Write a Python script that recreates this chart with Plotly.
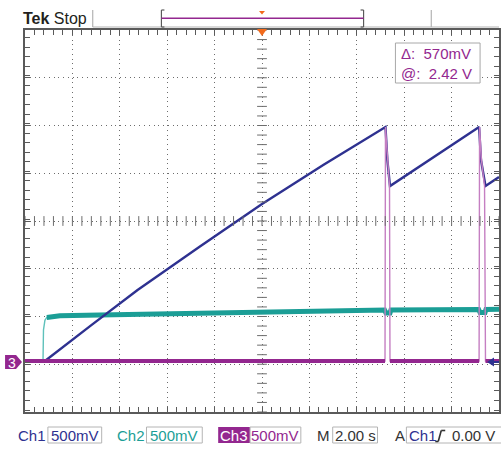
import numpy as np
import plotly.graph_objects as go

# ---- acquisition data (time in s, level in V) ----
ch1_t = [-10.0, -9.16, -7.20, -5.25, -2.65, 0.0, 2.60, 5.21, 5.29, 5.40, 9.16, 9.24, 9.43, 10.0]
ch1_v = [0.014, 0.014, 0.390, 0.757, 1.207, 1.658, 2.070, 2.464, 2.118, 1.846, 2.464, 2.118, 1.846, 1.940]

ch2_t = [-10.0, -9.24, -9.22, -9.16, -9.08, -8.87, -8.53, -6.85, -2.65, 1.56, 5.17, 5.23, 5.40,
         5.44, 9.14, 9.20, 9.41, 9.45, 10.0]
ch2_v = [0.014, 0.014, 0.34, 0.44, 0.47, 0.48, 0.487, 0.495, 0.516, 0.534, 0.548, 0.516, 0.516,
         0.548, 0.553, 0.521, 0.521, 0.553, 0.555]

ch3_t = [-10.0, 5.19, 5.21, 5.29, 5.38, 5.40, 9.16, 9.18, 9.26, 9.39, 9.43, 10.0]
ch3_v = [0.014, 0.014, 2.464, 2.118, 1.846, 0.014, 0.014, 2.464, 2.118, 1.846, 0.014, 0.014]

# ---- readouts ----
ch_labels = ["Ch1", "Ch2", "Ch3"]
ch_scales = ["500mV", "500mV", "500mV"]
timebase = "2.00 s"
trig_source = "Ch1"
trig_level = "0.00 V"
cursor_delta = "570mV"
cursor_at = "2.42 V"

BLUE = "#2e3190"
TEAL = "#1b9e96"
PURPLE = "#93278f"
ORANGE = "#f26a1b"
GRID = "#6d6d6d"
FRAME = "#5a5a5a"
TEXT = "#333333"
BOX = "#b4b4b4"

W, H = 501, 449
L, T, R, B = 25, 30, 501, 412
XR = [-10.0, 10.0]
YR = [-0.52, 3.48]


def px(x):
    return (x - L) / (R - L)


def py(y):
    return (B - y) / (B - T)


SANS = "Liberation Sans, Arial, sans-serif"

fig = go.Figure()


def heavy(v, lo, hi):
    return [val if lo <= val <= hi else None for val in v]


# Ch2: thin trace everywhere, heavy band on the plateau
fig.add_trace(go.Scatter(x=ch2_t, y=ch2_v, mode="lines", line=dict(color="#5fc1bb", width=1.4),
                         hoverinfo="skip", showlegend=False))
fig.add_trace(go.Scatter(x=ch2_t, y=heavy(ch2_v, 0.46, 1.0), mode="lines",
                         line=dict(color=TEAL, width=5), connectgaps=False,
                         hoverinfo="skip", showlegend=False))
# Ch1
fig.add_trace(go.Scatter(x=ch1_t, y=ch1_v, mode="lines", line=dict(color=BLUE, width=2.4),
                         hoverinfo="skip", showlegend=False))
# Ch3: thin transitions, heavy baseline
fig.add_trace(go.Scatter(x=ch3_t, y=ch3_v, mode="lines", line=dict(color="#c57fc2", width=1.4),
                         hoverinfo="skip", showlegend=False))
fig.add_trace(go.Scatter(x=ch3_t, y=heavy(ch3_v, -1, 0.2), mode="lines",
                         line=dict(color=PURPLE, width=4), connectgaps=False,
                         hoverinfo="skip", showlegend=False))

# centre cross-hair tick marks
xc = np.round(np.arange(XR[0], XR[1] + 1e-9, 0.4), 3)
yc_mid = (YR[0] + YR[1]) / 2
yc = np.round(np.arange(YR[0], YR[1] + 1e-9, 0.1), 3)
fig.add_trace(go.Scatter(x=xc, y=[yc_mid] * len(xc), mode="markers",
                         marker=dict(symbol="line-ns", size=7, line=dict(color=GRID, width=1)),
                         hoverinfo="skip", showlegend=False))
fig.add_trace(go.Scatter(x=[0] * len(yc), y=yc, mode="markers",
                         marker=dict(symbol="line-ew", size=7, line=dict(color=GRID, width=1)),
                         hoverinfo="skip", showlegend=False))

axis_common = dict(showgrid=True, gridcolor=GRID, gridwidth=1, griddash="1px,3.76px",
                   zeroline=False, showline=True, linecolor=FRAME, linewidth=1.5,
                   mirror="allticks", ticks="inside", ticklen=5, tickcolor=FRAME, tickwidth=1,
                   showticklabels=False, fixedrange=True)
fig.update_xaxes(range=XR, tick0=0, dtick=2,
                 minor=dict(dtick=0.4, ticks="inside", ticklen=5, tickcolor=FRAME, showgrid=False),
                 **axis_common)
fig.update_yaxes(range=YR, tick0=YR[0], dtick=0.5,
                 minor=dict(dtick=0.1, ticks="inside", ticklen=5, tickcolor=FRAME, showgrid=False),
                 **axis_common)

shapes = []
ann = []


def line(x0, y0, x1, y1, color, width=1):
    shapes.append(dict(type="line", xref="paper", yref="paper", x0=px(x0), y0=py(y0),
                       x1=px(x1), y1=py(y1), line=dict(color=color, width=width)))


def rect(x0, y0, x1, y1, color=BOX, fill=None, width=1):
    shapes.append(dict(type="rect", xref="paper", yref="paper", x0=px(x0), y0=py(y0),
                       x1=px(x1), y1=py(y1), line=dict(color=color, width=width if color else 0),
                       fillcolor=fill or "rgba(0,0,0,0)"))


def poly(pts, color):
    d = "M " + " L ".join(f"{px(a)},{py(b)}" for a, b in pts) + " Z"
    shapes.append(dict(type="path", xref="paper", yref="paper", path=d,
                       fillcolor=color, line=dict(color=color, width=0)))


def text(x, y, s, color, size=15, anchor="left", family=SANS):
    ann.append(dict(xref="paper", yref="paper", x=px(x), y=py(y), text=s, showarrow=False,
                    xanchor=anchor, yanchor="middle", borderpad=0,
                    font=dict(family=family, size=size, color=color)))


# header
text(22, 18, "<b>Tek</b> Stop", "#231f20", size=16)
line(93, 10, 93, 27, BOX, 1.2)
line(433, 10, 433, 27, BOX, 1.2)
line(93, 27, 501, 27, BOX, 1.2)
line(162, 10, 162, 27, FRAME, 1.2)
line(162, 10, 165, 10, FRAME, 1.2)
line(162, 27, 165, 27, FRAME, 1.2)
line(365, 10, 365, 27, FRAME, 1.2)
line(362, 10, 365, 10, FRAME, 1.2)
line(362, 27, 365, 27, FRAME, 1.2)
line(162, 18.3, 365, 18.3, PURPLE, 1.6)
poly([(260, 11), (266, 11), (263, 14.5)], ORANGE)
poly([(258, 29), (268, 29), (263, 36)], ORANGE)

# channel 3 ground tag and trigger level arrow
poly([(5, 355), (16, 355), (22, 362), (16, 369), (5, 369)], PURPLE)
text(11.5, 362.5, "3", "white", size=14, anchor="center")
poly([(489, 362), (496, 357.5), (496, 366.5)], BLUE)
line(495, 362, 501, 362, BLUE, 2)

# cursor readout
rect(397, 43, 482, 83, color="#a8a8a8", fill="white")
text(402, 54, "\u0394:  " + cursor_delta, PURPLE, size=15)
text(402, 73, "@:  " + cursor_at, PURPLE, size=15)

# bottom readouts
YB = 435.5
text(47.5, YB, ch_labels[0], BLUE, anchor="right")
rect(48, 427, 102, 443)
text(75, YB, ch_scales[0], BLUE, anchor="center")
text(146.5, YB, ch_labels[1], TEAL, anchor="right")
rect(147, 427, 203, 443)
text(175, YB, ch_scales[1], TEAL, anchor="center")
rect(219, 427, 251, 443, color=None, fill=PURPLE)
text(235, YB, ch_labels[2], "white", anchor="center")
rect(251, 427, 302, 443)
text(276.5, YB, ch_scales[2], PURPLE, anchor="center")
text(332.5, YB, "M", TEXT, anchor="right")
rect(334, 427, 379, 443)
text(356.5, YB, timebase, TEXT, anchor="center")
text(407.5, YB, "A", TEXT, anchor="right")
rect(408, 427, 506, 443)
text(410, YB, trig_source, BLUE, anchor="left")
# rising-edge glyph
for seg in [(437, 441.5, 440, 441.5), (440, 441.5, 443, 430.5), (443, 430.5, 447, 430.5)]:
    line(*seg, TEXT, 1.6)
text(453, YB, trig_level, TEXT, anchor="left")

fig.update_layout(width=W, height=H, margin=dict(l=L, r=W - R, t=T, b=H - B),
                  paper_bgcolor="white", plot_bgcolor="white", showlegend=False,
                  shapes=shapes, annotations=ann)

fig.write_html("out.html")
